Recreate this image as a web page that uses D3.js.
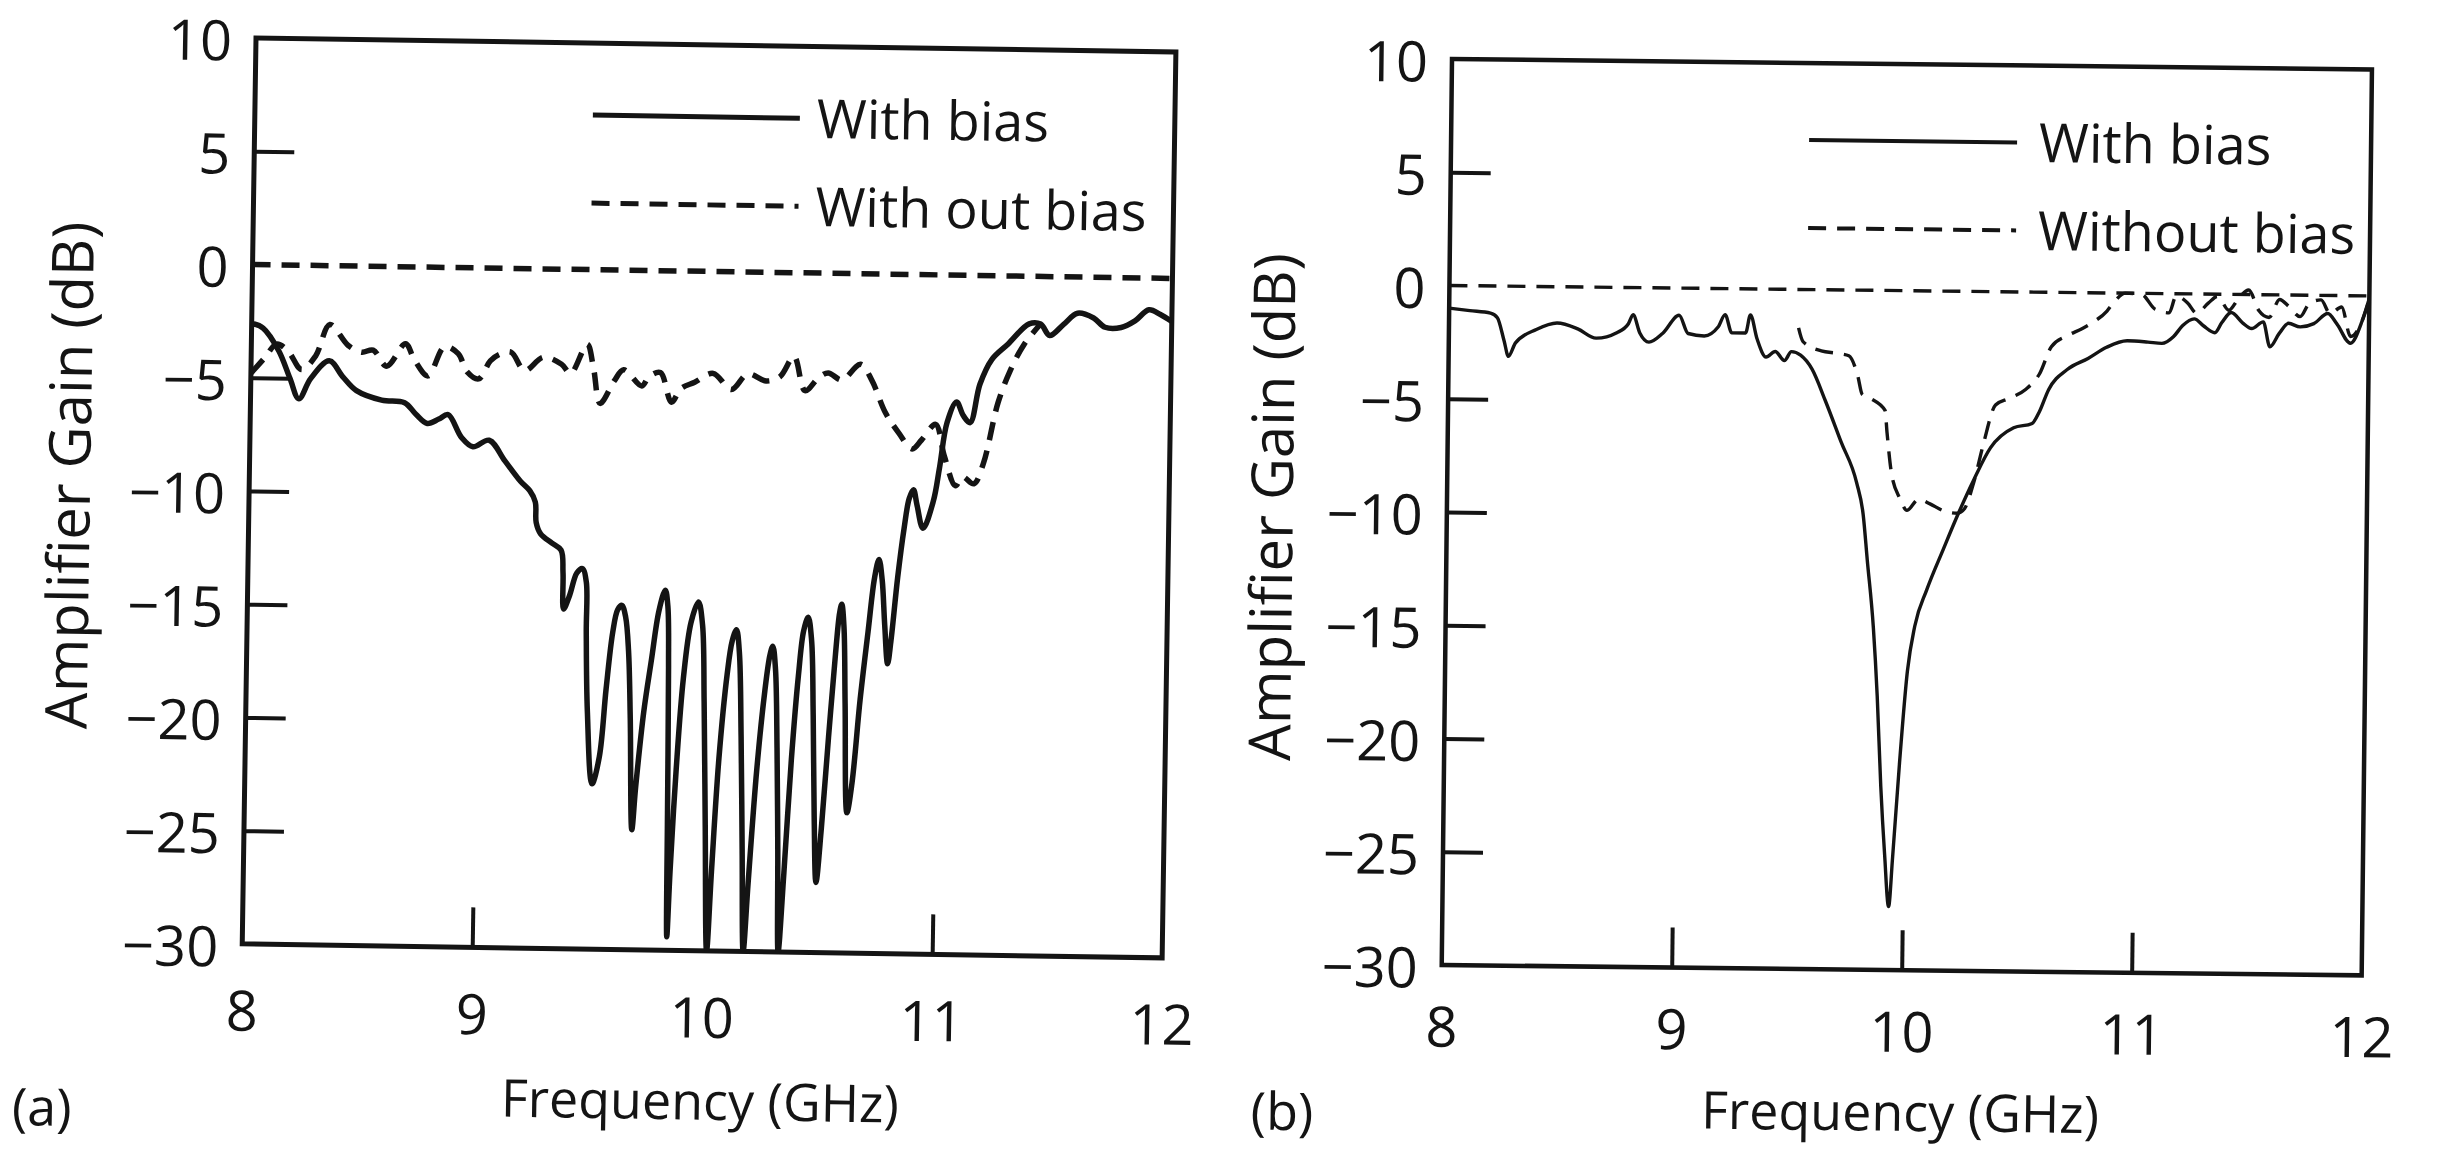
<!DOCTYPE html>
<html>
<head>
<meta charset="utf-8">
<script src="https://cdn.jsdelivr.net/npm/d3@7"></script>
<style>
  body { margin: 0; background: #fff; }
  svg { display: block; }
  text { font-family: "Open Sans", "Noto Sans", sans-serif; fill: #141414; }
</style>
</head>
<body>
<svg id="chart" width="2439" height="1151"></svg>
<script>
// ---- axes ----
const freqDomain = [8, 12];
const gainDomain = [-30, 10];
const xTickValues = [8, 9, 10, 11, 12];
const yTickValues = [10, 5, 0, -5, -10, -15, -20, -25, -30];
const xAxisTitle = "Frequency (GHz)";
const yAxisTitle = "Amplifier Gain (dB)";

// ---- panel (a): amplifier gain vs frequency ----
const aWithBias = [
  [8.00,-2.6],[8.05,-2.8],[8.12,-3.8],[8.17,-5.0],[8.21,-5.9],[8.26,-5.0],[8.34,-4.2],
  [8.40,-4.9],[8.46,-5.5],[8.57,-5.9],[8.67,-6.0],[8.72,-6.5],[8.77,-6.9],[8.82,-6.7],
  [8.86,-6.5],[8.92,-7.5],[8.97,-7.9],[9.04,-7.6],[9.11,-8.5],[9.18,-9.4],[9.22,-9.8],
  [9.245,-10.3],[9.25,-11.2],[9.27,-11.7],[9.32,-12.1],[9.36,-12.4],[9.37,-13.4],[9.375,-15.0],
  [9.40,-14.4],[9.43,-13.4],[9.454,-13.2],[9.472,-13.8],[9.475,-16.0],[9.485,-19.5],[9.51,-22.7],
  [9.54,-21.5],[9.565,-18.5],[9.59,-16.0],[9.61,-15.0],[9.628,-14.8],[9.645,-15.3],[9.66,-16.8],
  [9.672,-19.8],[9.686,-24.7],[9.70,-22.8],[9.73,-19.5],[9.76,-17.2],[9.79,-15.0],[9.816,-14.1],
  [9.828,-14.8],[9.835,-17.5],[9.84,-23.8],[9.845,-29.4],[9.855,-26.5],[9.875,-22.0],[9.90,-18.0],
  [9.93,-15.5],[9.961,-14.6],[9.98,-15.6],[9.992,-19.0],[10.005,-24.5],[10.019,-30.0],
  [10.035,-26.5],[10.06,-21.5],[10.09,-17.8],[10.11,-16.3],[10.128,-15.8],[10.142,-16.8],
  [10.155,-20.5],[10.167,-25.5],[10.178,-30.0],[10.195,-27.0],[10.225,-22.0],[10.255,-18.5],
  [10.275,-16.9],[10.287,-16.5],[10.30,-17.5],[10.312,-21.0],[10.322,-25.5],[10.33,-30.0],
  [10.35,-26.5],[10.375,-21.5],[10.40,-17.8],[10.42,-15.8],[10.439,-15.2],[10.455,-16.2],
  [10.467,-19.5],[10.478,-24.0],[10.49,-26.9],[10.51,-24.5],[10.535,-20.5],[10.56,-16.8],
  [10.575,-15.0],[10.584,-14.6],[10.595,-15.6],[10.605,-19.0],[10.62,-23.8],[10.64,-22.5],
  [10.67,-18.8],[10.70,-15.8],[10.725,-13.4],[10.743,-12.6],[10.758,-13.5],[10.772,-15.5],
  [10.787,-17.2],[10.80,-16.2],[10.825,-13.4],[10.85,-11.2],[10.87,-9.9],[10.888,-9.5],
  [10.905,-10.2],[10.932,-11.2],[10.975,-10.0],[11.00,-8.5],[11.03,-6.5],[11.07,-5.6],
  [11.10,-6.2],[11.13,-6.5],[11.17,-4.8],[11.22,-3.7],[11.29,-3.0],[11.38,-2.1],[11.43,-2.1],
  [11.47,-2.6],[11.53,-2.1],[11.59,-1.6],[11.66,-1.8],[11.71,-2.2],[11.78,-2.2],[11.84,-1.9],
  [11.90,-1.4],[11.95,-1.6],[12.00,-1.9]
];
const aWithoutBias = [
  [8.00,-4.8],[8.06,-4.1],[8.11,-3.5],[8.16,-3.8],[8.22,-4.6],[8.28,-4.0],[8.34,-2.6],
  [8.42,-3.5],[8.48,-3.8],[8.53,-3.7],[8.59,-4.4],[8.67,-3.4],[8.71,-4.1],[8.77,-4.8],
  [8.84,-3.5],[8.90,-3.8],[8.94,-4.6],[8.99,-4.9],[9.04,-4.1],[9.08,-3.8],[9.13,-3.7],
  [9.19,-4.5],[9.27,-3.9],[9.35,-4.2],[9.39,-4.6],[9.46,-3.3],[9.49,-4.4],[9.52,-5.9],
  [9.58,-4.9],[9.62,-4.4],[9.70,-5.1],[9.73,-4.7],[9.78,-4.5],[9.83,-5.8],[9.87,-5.2],
  [9.93,-4.9],[10.01,-4.5],[10.09,-5.2],[10.16,-4.5],[10.24,-4.8],[10.30,-4.6],[10.36,-3.7],
  [10.41,-5.2],[10.47,-4.6],[10.51,-4.4],[10.57,-4.7],[10.65,-4.0],[10.70,-4.7],[10.76,-6.1],
  [10.82,-7.0],[10.88,-7.7],[10.92,-7.3],[10.98,-6.6],[11.02,-8.0],[11.07,-9.3],[11.10,-8.9],
  [11.15,-9.2],[11.19,-8.3],[11.25,-5.6],[11.30,-4.2],[11.36,-3.0],[11.43,-2.1]
];
const aReference = [[8, 0], [12, 0]];
const aLegend = ["With bias", "With out bias"];

// ---- panel (b) ----
const bWithBias = [
  [8.00,-1.0],[8.09,-1.1],[8.18,-1.2],[8.21,-1.4],[8.24,-2.4],[8.26,-3.1],[8.29,-2.5],
  [8.38,-1.9],[8.47,-1.6],[8.56,-1.85],[8.64,-2.25],[8.73,-2.0],[8.78,-1.6],[8.80,-1.2],
  [8.83,-2.0],[8.87,-2.4],[8.93,-2.0],[9.00,-1.2],[9.04,-2.0],[9.11,-2.1],[9.17,-1.7],
  [9.20,-1.15],[9.23,-1.95],[9.29,-1.95],[9.31,-1.15],[9.34,-2.2],[9.38,-3.0],[9.42,-2.75],
  [9.46,-3.15],[9.49,-2.75],[9.53,-2.9],[9.58,-3.5],[9.64,-4.9],[9.71,-6.7],[9.78,-8.5],
  [9.81,-9.9],[9.83,-11.9],[9.86,-14.9],[9.88,-17.9],[9.90,-21.9],[9.92,-24.9],[9.94,-27.2],
  [9.955,-25.0],[9.98,-20.9],[10.01,-16.8],[10.04,-14.8],[10.09,-13.2],[10.16,-11.4],
  [10.22,-9.9],[10.29,-8.3],[10.36,-6.9],[10.46,-6.0],[10.54,-5.8],[10.57,-5.3],[10.61,-4.3],
  [10.69,-3.4],[10.78,-2.9],[10.86,-2.4],[10.95,-2.1],[11.04,-2.15],[11.10,-2.2],[11.15,-1.9],
  [11.19,-1.4],[11.24,-1.1],[11.28,-1.4],[11.33,-1.7],[11.36,-1.25],[11.40,-0.8],[11.45,-1.25],
  [11.49,-1.5],[11.54,-1.2],[11.57,-2.3],[11.61,-1.7],[11.65,-1.25],[11.70,-1.4],[11.76,-1.25],
  [11.82,-0.8],[11.86,-1.25],[11.92,-2.1],[11.97,-1.1],[12.00,-0.1]
];
const bWithoutBias = [
  [9.52,-1.7],[9.54,-2.3],[9.62,-2.7],[9.69,-2.8],[9.74,-2.9],[9.78,-3.8],[9.80,-4.6],
  [9.84,-4.8],[9.90,-5.3],[9.91,-6.3],[9.93,-8.0],[9.97,-9.2],[10.00,-9.7],[10.05,-9.2],
  [10.10,-9.4],[10.16,-9.7],[10.22,-9.8],[10.25,-9.6],[10.29,-8.4],[10.33,-6.7],[10.38,-5.0],
  [10.44,-4.7],[10.51,-4.3],[10.57,-3.6],[10.62,-2.4],[10.69,-1.9],[10.75,-1.6],[10.80,-1.3],
  [10.86,-0.8],[10.89,-0.4],[10.94,0.0],[11.01,-0.05],[11.07,-0.7],[11.13,-0.85],[11.16,-0.1],
  [11.21,-0.4],[11.25,-0.85],[11.30,-0.4],[11.34,-0.1],[11.39,-0.7],[11.43,-0.2],[11.475,0.2],
  [11.52,-0.7],[11.565,-1.0],[11.61,-0.2],[11.65,-0.5],[11.70,-0.95],[11.74,-0.35],[11.79,-0.2],
  [11.83,-0.8],[11.88,-0.5],[11.92,-1.8],[11.97,-1.1],[12.00,-0.15]
];
const bReference = [[8, 0], [12, 0]];
const bLegend = ["With bias", "Without bias"];

const panelTags = ["(a)", "(b)"];

// ---- layout ----
const W = 920, H = 906;
const panels = [
  { tag: panelTags[0], legend: aLegend, solid: aWithBias, dashed: aWithoutBias, ref: aReference,
    ox: 256, oy: 38, angle: 0.87, curveWidth: 5.5, frameWidth: 5, legendWidth: 5,
    curve: d3.curveCatmullRom.alpha(0.5), xPad: 47,
    yTickMarks: [5, -5, -10, -15, -20, -25], xTickMarks: [9, 11],
    tagPos: [-198, 1072], xTitleY: 1056, yTitleX: -180, yTitleMid: 440,
    legendV: [72, 160], legendX: [338, 545], textX: 562 },
  { tag: panelTags[1], legend: bLegend, solid: bWithBias, dashed: bWithoutBias, ref: bReference,
    ox: 1452, oy: 59, angle: 0.65, curveWidth: 3.4, frameWidth: 4.5, legendWidth: 4,
    curve: d3.curveMonotoneX, xPad: 42,
    yTickMarks: [5, -5, -10, -15, -20, -25], xTickMarks: [9, 10, 11],
    tagPos: [-158, 1054], xTitleY: 1048, yTitleX: -175, yTitleMid: 450,
    legendV: [77, 165], legendX: [358, 566], textX: 588 }
];

const svg = d3.select("#chart");
const x = d3.scaleLinear().domain(freqDomain).range([0, W]);
const y = d3.scaleLinear().domain(gainDomain).range([H, 0]);
const dash = "18,11";

panels.forEach((p, i) => {
  const g = svg.append("g")
    .attr("transform", `translate(${p.ox},${p.oy}) rotate(${p.angle})`);

  const clipId = "clip" + i;
  g.append("clipPath").attr("id", clipId)
    .append("rect").attr("width", W).attr("height", H);

  // y axis: labels on every value, inward tick marks only where drawn
  const yAxis = g.append("g")
    .call(d3.axisLeft(y).tickValues(yTickValues).tickFormat(d3.format("d"))
      .tickSizeInner(-40).tickSizeOuter(0).tickPadding(24));
  yAxis.select(".domain").remove();
  yAxis.selectAll(".tick").filter(d => !p.yTickMarks.includes(d)).select("line").remove();
  yAxis.selectAll("text").attr("dy", "0.4em");

  const xAxis = g.append("g").attr("transform", `translate(0,${H})`)
    .call(d3.axisBottom(x).tickValues(xTickValues).tickFormat(d3.format("d"))
      .tickSizeInner(-40).tickSizeOuter(0).tickPadding(p.xPad));
  xAxis.select(".domain").remove();
  xAxis.selectAll(".tick").filter(d => !p.xTickMarks.includes(d)).select("line").remove();

  [yAxis, xAxis].forEach(ax => {
    ax.attr("font-family", null).attr("font-size", null);
    ax.selectAll("line").attr("stroke", "#141414").attr("stroke-width", 4);
    ax.selectAll("text").attr("fill", "#141414").style("font-size", "56px");
  });

  // frame
  g.append("rect").attr("width", W).attr("height", H)
    .attr("fill", "none").attr("stroke", "#141414").attr("stroke-width", p.frameWidth);

  const line = d3.line().x(d => x(d[0])).y(d => y(d[1])).curve(p.curve);
  const plot = g.append("g").attr("clip-path", `url(#${clipId})`);

  plot.append("path").datum(p.ref).attr("d", d3.line().x(d => x(d[0])).y(d => y(d[1])))
    .attr("fill", "none").attr("stroke", "#141414").attr("stroke-width", p.curveWidth)
    .attr("stroke-dasharray", dash);
  plot.append("path").datum(p.dashed).attr("d", line)
    .attr("fill", "none").attr("stroke", "#141414").attr("stroke-width", p.curveWidth)
    .attr("stroke-dasharray", dash).attr("stroke-linejoin", "round");
  plot.append("path").datum(p.solid).attr("d", line)
    .attr("fill", "none").attr("stroke", "#141414").attr("stroke-width", p.curveWidth)
    .attr("stroke-linejoin", "round");

  // legend
  p.legend.forEach((label, k) => {
    const v = p.legendV[k];
    g.append("line").attr("x1", p.legendX[0]).attr("x2", p.legendX[1]).attr("y1", v).attr("y2", v)
      .attr("stroke", "#141414").attr("stroke-width", p.legendWidth)
      .attr("stroke-dasharray", k === 1 ? dash : null);
    g.append("text").attr("x", p.textX).attr("y", v).attr("dy", "0.36em")
      .style("font-size", "54px").text(label);
  });

  // titles
  g.append("text").attr("x", W / 2).attr("y", p.xTitleY).attr("dy", "0.36em")
    .attr("text-anchor", "middle").style("font-size", "52px").text(xAxisTitle);
  g.append("text").attr("transform", `translate(${p.yTitleX},${p.yTitleMid}) rotate(-90)`)
    .attr("dy", "0.36em").attr("text-anchor", "middle").style("font-size", "58px").text(yAxisTitle);
  g.append("text").attr("x", p.tagPos[0]).attr("y", p.tagPos[1]).attr("dy", "0.36em")
    .attr("text-anchor", "middle").style("font-size", "52px").text(p.tag);
});
</script>
</body>
</html>
